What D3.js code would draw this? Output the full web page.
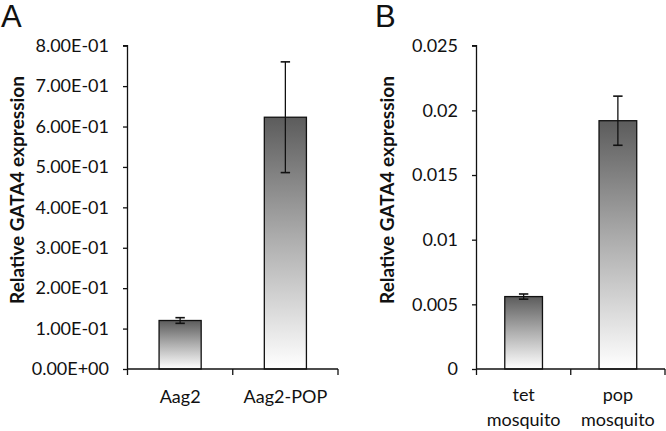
<!DOCTYPE html>
<html><head><meta charset="utf-8">
<script src="https://cdn.jsdelivr.net/npm/d3@7"></script>
<style>body{margin:0;background:#fff}svg{display:block}</style>
</head><body><svg id="c" width="666" height="431"></svg>
<script>
const catsA = ["Aag2", "Aag2-POP"];
const valsA = [0.12, 0.623];
const errA = [0.007, 0.137];
const ticksA = [0, 0.1, 0.2, 0.3, 0.4, 0.5, 0.6, 0.7, 0.8];
const catsB = [["tet", "mosquito"], ["pop", "mosquito"]];
const valsB = [0.0056, 0.0192];
const errB = [0.0002, 0.0019];
const ticksB = [0, 0.005, 0.01, 0.015, 0.02, 0.025];
const yTitle = "Relative GATA4 expression";

const svg = d3.select("#c");
const defs = svg.append("defs");
const g = defs.append("linearGradient").attr("id","grad").attr("x1",0).attr("y1",0).attr("x2",0).attr("y2",1);
g.append("stop").attr("offset","0%").attr("stop-color","#5c5c5c");
g.append("stop").attr("offset","50%").attr("stop-color","#b0b0b0");
g.append("stop").attr("offset","100%").attr("stop-color","#ffffff");

const FONT = "Lato, 'Open Sans', sans-serif";

function panel(o){
  const x = d3.scaleBand().domain(o.cats.map((d,i)=>i)).range([o.x0,o.x1]).paddingInner(0.6).paddingOuter(0.3);
  const y = d3.scaleLinear().domain(o.domain).range([o.y0,o.y1]);
  const root = svg.append("g");
  root.selectAll("rect.bar").data(o.vals).join("rect")
    .attr("x",(d,i)=>x(i)).attr("width",x.bandwidth())
    .attr("y",d=>y(d)).attr("height",d=>y(0)-y(d))
    .attr("fill","url(#grad)").attr("stroke","#111").attr("stroke-width",1.3);
  o.vals.forEach((v,i)=>{
    const cx = x(i)+x.bandwidth()/2;
    const e = o.err[i];
    root.append("line").attr("x1",cx).attr("x2",cx).attr("y1",y(v+e)).attr("y2",y(v-e)).attr("stroke","#111").attr("stroke-width",1.3);
    [v+e,v-e].forEach(t=>root.append("line").attr("x1",cx-4.7).attr("x2",cx+4.7).attr("y1",y(t)).attr("y2",y(t)).attr("stroke","#111").attr("stroke-width",1.6));
  });
  const ya = d3.axisLeft(y).tickValues(o.ticks).tickFormat(o.fmt).tickSize(4.5).tickPadding(14);
  const gy = root.append("g").attr("transform",`translate(${o.x0},0)`).call(ya);
  gy.select(".domain").attr("stroke","#111").attr("stroke-width",1.3).attr("d",`M-4.5,${o.y1}H0V${o.y0}`);
  gy.selectAll(".tick line").attr("stroke","#111").attr("stroke-width",1.3);
  gy.selectAll("text").attr("font-family",FONT).attr("font-size",18).attr("fill","#111");
  root.append("line").attr("x1",o.x0).attr("x2",o.x1).attr("y1",o.y0).attr("y2",o.y0).attr("stroke","#111").attr("stroke-width",1.3);
  const bounds = d3.range(o.cats.length+1).map(k=>o.x0+k*(o.x1-o.x0)/o.cats.length);
  root.selectAll("line.xt").data(bounds).join("line").attr("class","xt")
    .attr("x1",d=>d).attr("x2",d=>d).attr("y1",o.y0).attr("y2",o.y0+6).attr("stroke","#111").attr("stroke-width",1.3);
  o.cats.forEach((c,i)=>{
    const cx = x(i)+x.bandwidth()/2;
    const lines = Array.isArray(c)?c:[c];
    lines.forEach((t,k)=>root.append("text").attr("x",cx).attr("y",o.labelY+k*25).attr("text-anchor","middle")
      .attr("font-family",FONT).attr("font-size",18).attr("fill","#111").text(t));
  });
  root.append("text").attr("transform",`translate(${o.titleX},190) rotate(-90)`)
    .attr("text-anchor","middle").attr("font-family",FONT).attr("font-weight","bold").attr("font-size",19).attr("fill","#111").text(yTitle);
  root.append("text").attr("x",o.letterX).attr("y",27).attr("font-family","'Liberation Sans', Arial, sans-serif").attr("font-size",31).attr("fill","#111").text(o.letter);
}

panel({cats:catsA, vals:valsA, err:errA, ticks:ticksA, domain:[0,0.8], fmt:d=>d===0?"0.00E+00":d3.format(".2e")(d).replace("e-1","E-01"),
  x0:127.5, x1:338, y0:369, y1:45.7, labelY:403, titleX:24, letter:"A", letterX:1});
panel({cats:catsB, vals:valsB, err:errB, ticks:ticksB, domain:[0,0.025], fmt:d=>d===0?"0":String(+d.toFixed(3)),
  x0:476.5, x1:665, y0:369, y1:45.7, labelY:401, titleX:394, letter:"B", letterX:375});
</script></body></html>
